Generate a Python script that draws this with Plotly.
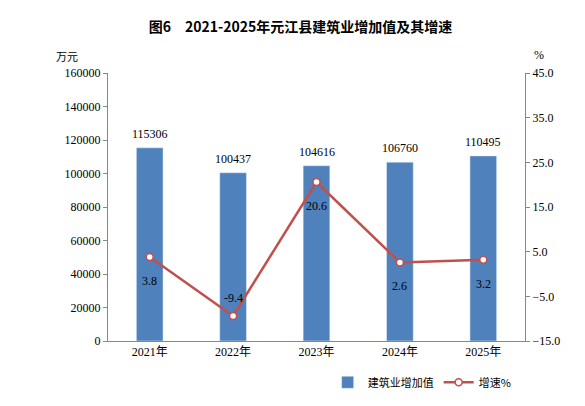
import plotly.graph_objects as go

years = ["2021年", "2022年", "2023年", "2024年", "2025年"]
values = [115306, 100437, 104616, 106760, 110495]
growth = [3.8, -9.4, 20.6, 2.6, 3.2]
label_shift = [-24, 18, -24, -24, -24]

font = "Liberation Serif, Noto Sans CJK SC"
fig = go.Figure()
fig.add_trace(go.Bar(x=years, y=values, name="建筑业增加值", marker_color="#4F81BD",
                     width=0.32))
fig.add_trace(go.Scatter(x=years, y=growth, name="增速%", yaxis="y2", mode="lines+markers",
                         line=dict(color="#C0504D", width=2.5),
                         marker=dict(symbol="circle", size=7, color="white",
                                     line=dict(color="#C0504D", width=1.5))))
for x, v in zip(years, values):
    fig.add_annotation(x=x, y=v, text=str(v), showarrow=False, yshift=14,
                       font=dict(size=12, color="#000"))
for x, g, s in zip(years, growth, label_shift):
    fig.add_annotation(x=x, y=g, yref="y2", text=f"{g:.1f}", showarrow=False, yshift=s,
                       font=dict(size=12, color="#000"))

fig.update_layout(
    width=585, height=406, margin=dict(l=100, r=68, t=65, b=73),
    paper_bgcolor="white", plot_bgcolor="white",
    font=dict(family=font, size=12, color="#000"),
    title=dict(text="<b>图6　2021-2025年元江县建筑业增加值及其增速</b>", x=0.5, y=0.965,
               xanchor="center", font=dict(size=14, family="Noto Sans CJK SC")),
    xaxis=dict(showline=True, linecolor="#888", ticks="", showgrid=False),
    yaxis=dict(range=[0, 160000], dtick=20000, tickformat="d", showgrid=False, showline=True,
               linecolor="#888", ticks="outside", ticklen=4, tickcolor="#888"),
    yaxis2=dict(range=[-15, 45], tickvals=[-15, -5, 5, 15, 25, 35, 45], overlaying="y",
                side="right", showgrid=False,
                showline=True, linecolor="#888", tickformat=".1f", ticks="outside",
                ticklen=4, tickcolor="#888"),
    legend=dict(orientation="h", x=0.98, xanchor="right", y=-0.1, yanchor="top",
                font=dict(size=11, family="Noto Sans CJK SC")),
)
fig.add_annotation(xref="paper", yref="paper", x=-0.13, y=1.1, text="万元", showarrow=False,
                   font=dict(family="Noto Sans CJK SC", size=11))
fig.add_annotation(xref="paper", yref="paper", x=1.05, y=1.1, text="%", showarrow=False)
fig.write_html("out.html")
